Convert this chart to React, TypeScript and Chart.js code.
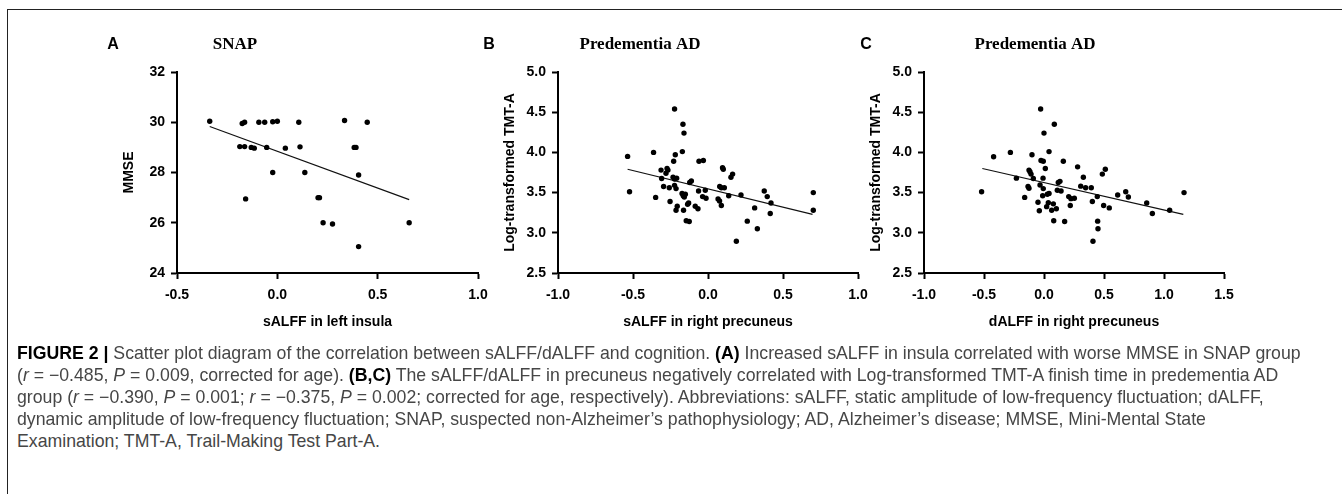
import React, { useEffect, useRef } from "react";
import { Chart, registerables } from "chart.js";

Chart.register(...registerables);

// ---------- Panel A: SNAP ----------
const snapX = [
  -0.337, -0.175, -0.163, -0.092, -0.063, -0.023, 0.0, 0.107, 0.335, 0.448,
  -0.187, -0.163, -0.13, -0.115, -0.053, 0.04, 0.113, 0.383, 0.392,
  -0.023, 0.137, 0.405, -0.158, 0.203, 0.21, 0.228, 0.275, 0.657, 0.405,
];
const snapY = [
  30.04, 29.95, 30.0, 30.0, 30.0, 30.02, 30.04, 30.0, 30.07, 30.0,
  29.03, 29.03, 29.0, 28.97, 29.0, 28.97, 29.02, 29.0, 29.0,
  28.0, 28.0, 27.9, 26.95, 27.0, 27.0, 26.0, 25.95, 26.0, 25.05,
];
const snapFitX = [-0.337, 0.657];
const snapFitY = [29.83, 26.92];

// ---------- Panel B: Predementia AD, sALFF ----------
const sPrecX = [
  -0.223, -0.167, -0.16, -0.536, -0.363, -0.171, -0.218, -0.229, -0.06, -0.031,
  -0.313, -0.273, -0.267, -0.28, -0.309, -0.233, -0.209, -0.223, -0.111, -0.122,
  0.097, 0.102, 0.164, 0.153, -0.523, -0.296, -0.258, -0.223, -0.213, -0.063,
  -0.018, 0.078, 0.089, 0.109, -0.349, -0.173, -0.165, -0.151, -0.158, -0.036,
  -0.013, 0.138, 0.067, 0.077, -0.253, -0.085, -0.067, -0.129, -0.136, 0.089,
  -0.205, -0.213, -0.163, -0.145, -0.125, 0.702, 0.702, 0.22, 0.375, 0.395,
  0.42, 0.415, 0.311, 0.262, 0.329, 0.189,
];
const sPrecY = [
  4.54, 4.35, 4.24, 3.95, 4.0, 4.01, 3.97, 3.89, 3.89, 3.9,
  3.78, 3.8, 3.78, 3.74, 3.675, 3.69, 3.68, 3.67, 3.645, 3.625,
  3.81, 3.79, 3.73, 3.69, 3.51, 3.575, 3.56, 3.59, 3.55, 3.52,
  3.53, 3.575, 3.56, 3.56, 3.44, 3.49, 3.46, 3.48, 3.445, 3.45,
  3.43, 3.46, 3.42, 3.395, 3.39, 3.33, 3.3, 3.37, 3.355, 3.34,
  3.33, 3.28, 3.28, 3.15, 3.14, 3.5, 3.28, 3.47, 3.52, 3.45,
  3.37, 3.24, 3.31, 3.145, 3.05, 2.895,
];
const sPrecFitX = [-0.536, 0.697];
const sPrecFitY = [3.79, 3.23];

// ---------- Panel C: Predementia AD, dALFF ----------
const dPrecX = [
  -0.028, 0.086, 0.0, -0.52, -0.42, -0.28, 0.042, -0.1, -0.025, -0.006,
  0.161, 0.011, 0.28, -0.125, -0.117, -0.108, -0.23, -0.089, -0.008, 0.133,
  0.119, -0.033, -0.133, -0.125, -0.006, 0.111, 0.142, 0.042, 0.028, -0.011,
  -0.161, 0.206, 0.225, 0.253, -0.05, 0.036, 0.022, 0.078, 0.219, 0.103,
  0.064, -0.039, 0.081, 0.172, 1.167, 0.328, 0.486, 0.511, 0.306, 0.347,
  0.394, 0.444, 0.403, 0.497, 0.544, 0.614, 0.681, 0.703, 0.856, 0.903,
  1.047, 0.447, 0.45, 0.408,
];
const dPrecY = [
  4.54, 4.35, 4.24, 3.51, 3.945, 4.0, 4.01, 3.97, 3.9, 3.89,
  3.89, 3.8, 3.82, 3.78, 3.76, 3.73, 3.68, 3.675, 3.68, 3.64,
  3.625, 3.595, 3.575, 3.555, 3.55, 3.53, 3.52, 3.49, 3.48, 3.46,
  3.44, 3.45, 3.425, 3.43, 3.38, 3.375, 3.325, 3.36, 3.34, 3.3,
  3.28, 3.275, 3.15, 3.14, 3.5, 3.69, 3.73, 3.79, 3.58, 3.56,
  3.56, 3.45, 3.39, 3.34, 3.31, 3.47, 3.51, 3.445, 3.37, 3.24,
  3.28, 3.145, 3.05, 2.895,
];
const dPrecFitX = [-0.514, 1.161];
const dPrecFitY = [3.8, 3.23];

type PanelProps = {
  xs: number[];
  ys: number[];
  fitX: number[];
  fitY: number[];
  xMin: number;
  xMax: number;
  yMin: number;
  yMax: number;
  yStep: number;
  yDecimals: number;
  letter: string;
  title: string;
  xTitle: string;
  yTitle: string;
  axisLeft: number;
  axisRight: number;
  letterOffset: number;
  titleOffset: number;
};

const Y_BOX = 77;
const RIGHT_PAD = 20;
const TOP = 25;
const HEIGHT = 320;
const TOP_PAD = 47;
const X_BOX = 72;

function Panel(p: PanelProps) {
  const ref = useRef<HTMLCanvasElement>(null);
  const width = p.axisRight - p.axisLeft + Y_BOX + RIGHT_PAD;
  useEffect(() => {
    if (!ref.current) return;
    const tickFont = { family: "Liberation Sans", size: 14, weight: "bold" as const };
    const titleFont = { family: "Liberation Sans", size: 14, weight: "bold" as const };
    const headPlugin = {
      id: "head",
      afterDraw(chart: any) {
        const ctx = chart.ctx;
        const left = chart.chartArea.left;
        ctx.save();
        ctx.fillStyle = "#000";
        ctx.textBaseline = "middle";
        ctx.textAlign = "center";
        ctx.font = "bold 16px 'Liberation Sans'";
        ctx.fillText(p.letter, left + p.letterOffset, 20);
        ctx.font = "bold 17px 'Liberation Serif'";
        ctx.fillText(p.title, left + p.titleOffset, 20);
        ctx.restore();
      },
    };
    const chart = new Chart(ref.current, {
      type: "scatter",
      data: {
        datasets: [
          {
            type: "scatter",
            data: p.xs.map((x, i) => ({ x, y: p.ys[i] })),
            pointRadius: 2.7,
            pointBackgroundColor: "#000",
            pointBorderWidth: 0,
            order: 1,
          },
          {
            type: "line",
            data: p.fitX.map((x, i) => ({ x, y: p.fitY[i] })),
            borderColor: "#111",
            borderWidth: 1.2,
            pointRadius: 0,
            fill: false,
            order: 2,
          } as any,
        ],
      },
      options: {
        animation: false,
        responsive: false,
        maintainAspectRatio: false,
        layout: { padding: { left: 0, right: RIGHT_PAD, top: TOP_PAD, bottom: 0 } },
        plugins: {
          legend: { display: false },
          tooltip: { enabled: false },
          title: { display: false },
        },
        scales: {
          x: {
            type: "linear",
            min: p.xMin,
            max: p.xMax,
            ticks: {
              stepSize: 0.5,
              color: "#000",
              font: tickFont,
              padding: 8,
              callback: (v: any) => Number(v).toFixed(1),
            },
            grid: {
              drawOnChartArea: false,
              tickLength: 6,
              tickWidth: 2,
              tickColor: "#000",
            },
            border: { display: true, color: "#000", width: 2 },
            title: {
              display: true,
              text: p.xTitle,
              color: "#000",
              font: titleFont,
              padding: { top: 0, bottom: 14.6 },
            },
            afterFit: (s: any) => {
              s.height = X_BOX;
            },
          },
          y: {
            type: "linear",
            min: p.yMin,
            max: p.yMax,
            ticks: {
              stepSize: p.yStep,
              color: "#000",
              font: tickFont,
              padding: 6,
              callback: (v: any) => Number(v).toFixed(p.yDecimals),
            },
            grid: {
              drawOnChartArea: false,
              tickLength: 6,
              tickWidth: 2,
              tickColor: "#000",
            },
            border: { display: true, color: "#000", width: 2 },
            title: {
              display: true,
              text: p.yTitle,
              color: "#000",
              font: titleFont,
              padding: { top: 20.6, bottom: 0 },
            },
            afterFit: (s: any) => {
              s.width = Y_BOX;
            },
          },
        },
      } as any,
      plugins: [headPlugin],
    });
    return () => chart.destroy();
  }, []);
  return (
    <canvas
      ref={ref}
      width={width}
      height={HEIGHT}
      style={{
        position: "absolute",
        left: p.axisLeft - Y_BOX,
        top: TOP,
        width,
        height: HEIGHT,
      }}
    />
  );
}

const capStyle: React.CSSProperties = {
  position: "absolute",
  left: 17,
  whiteSpace: "nowrap",
  fontFamily: "'Liberation Sans', Arial, sans-serif",
  fontSize: 17.7,
  lineHeight: "22px",
  color: "#464646",
};

const bold: React.CSSProperties = { color: "#000", fontWeight: "bold" };

export default function App() {
  return (
    <div
      style={{
        position: "absolute",
        left: 0,
        top: 0,
        width: 1342,
        height: 494,
        overflow: "hidden",
        background: "#fff",
      }}
    >
      <div
        style={{
          position: "absolute",
          left: 7,
          top: 9,
          right: -10,
          bottom: -10,
          borderTop: "1.5px solid #222",
          borderLeft: "1.5px solid #222",
        }}
      />
      <Panel
        xs={snapX}
        ys={snapY}
        fitX={snapFitX}
        fitY={snapFitY}
        xMin={-0.5}
        xMax={1.0}
        yMin={24}
        yMax={32}
        yStep={2}
        yDecimals={0}
        letter="A"
        title="SNAP"
        xTitle="sALFF in left insula"
        yTitle="MMSE"
        axisLeft={177}
        axisRight={478}
        letterOffset={-64}
        titleOffset={58}
      />
      <Panel
        xs={sPrecX}
        ys={sPrecY}
        fitX={sPrecFitX}
        fitY={sPrecFitY}
        xMin={-1.0}
        xMax={1.0}
        yMin={2.5}
        yMax={5.0}
        yStep={0.5}
        yDecimals={1}
        letter="B"
        title="Predementia AD"
        xTitle="sALFF in right precuneus"
        yTitle="Log-transformed TMT-A"
        axisLeft={558}
        axisRight={858}
        letterOffset={-69}
        titleOffset={82}
      />
      <Panel
        xs={dPrecX}
        ys={dPrecY}
        fitX={dPrecFitX}
        fitY={dPrecFitY}
        xMin={-1.0}
        xMax={1.5}
        yMin={2.5}
        yMax={5.0}
        yStep={0.5}
        yDecimals={1}
        letter="C"
        title="Predementia AD"
        xTitle="dALFF in right precuneus"
        yTitle="Log-transformed TMT-A"
        axisLeft={924}
        axisRight={1224}
        letterOffset={-58}
        titleOffset={111}
      />
      <div style={{ ...capStyle, top: 342 }}>
        <span style={bold}>FIGURE 2 | </span>
        Scatter plot diagram of the correlation between sALFF/dALFF and cognition.{" "}
        <span style={bold}>(A)</span> Increased sALFF in insula correlated with worse MMSE in SNAP group
      </div>
      <div style={{ ...capStyle, top: 364 }}>
        (<i>r</i> = −0.485, <i>P</i> = 0.009, corrected for age). <span style={bold}>(B,C)</span> The
        sALFF/dALFF in precuneus negatively correlated with Log-transformed TMT-A finish time in predementia AD
      </div>
      <div style={{ ...capStyle, top: 386 }}>
        group (<i>r</i> = −0.390, <i>P</i> = 0.001; <i>r</i> = −0.375, <i>P</i> = 0.002; corrected for age,
        respectively). Abbreviations: sALFF, static amplitude of low-frequency fluctuation; dALFF,
      </div>
      <div style={{ ...capStyle, top: 408 }}>
        dynamic amplitude of low-frequency fluctuation; SNAP, suspected non-Alzheimer’s pathophysiology; AD,
        Alzheimer’s disease; MMSE, Mini-Mental State
      </div>
      <div style={{ ...capStyle, top: 430 }}>Examination; TMT-A, Trail-Making Test Part-A.</div>
    </div>
  );
}
